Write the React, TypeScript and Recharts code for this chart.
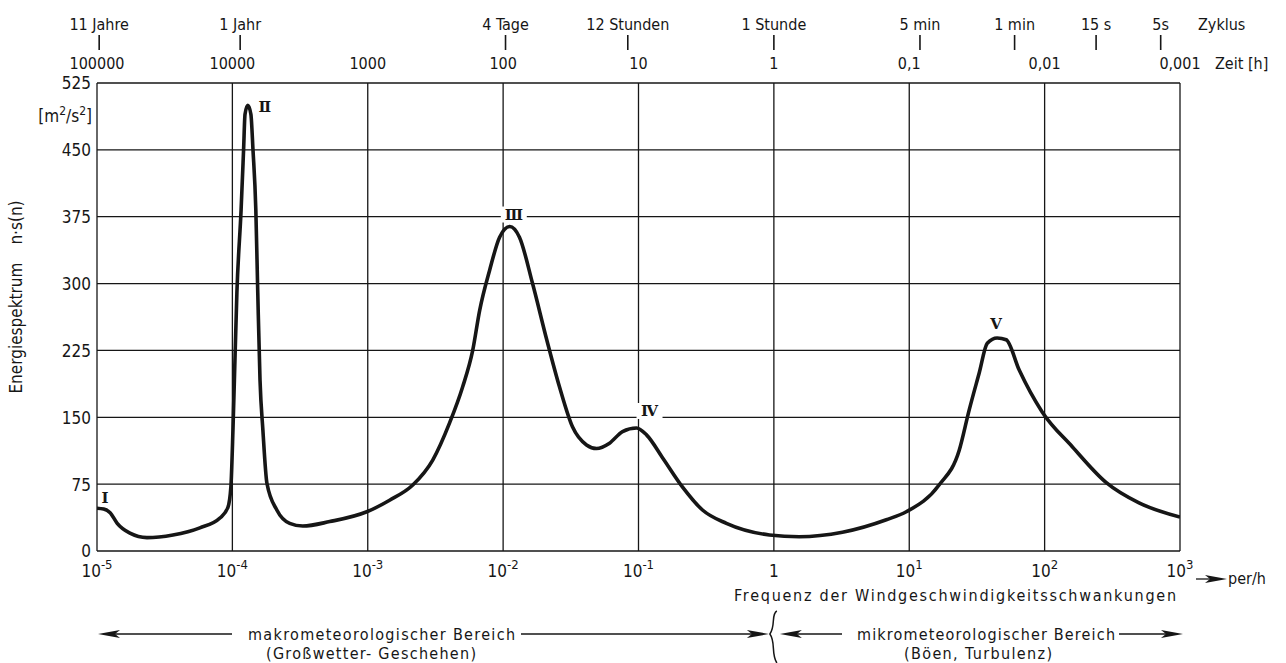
import React from 'react';
import { LineChart, Line, XAxis, YAxis, CartesianGrid, LabelList } from 'recharts';

// Frequency of wind speed fluctuations [per hour] and spectral energy n·S(n) [m²/s²]
const frequency = [
  1e-5, 1.12e-5, 1.25e-5, 1.41e-5, 1.75e-5, 2.34e-5, 3.64e-5, 5.75e-5, 8.09e-5, 9.27e-5,
  9.75e-5, 1.01e-4, 1.035e-4, 1.08e-4, 1.16e-4, 1.21e-4, 1.24e-4, 1.3e-4, 1.37e-4, 1.42e-4,
  1.49e-4, 1.54e-4, 1.6e-4, 1.68e-4, 1.8e-4, 2.13e-4, 2.65e-4, 3.31e-4, 5.24e-4, 9.84e-4,
  1.45e-3, 2.15e-3, 3.02e-3, 4.03e-3, 5.02e-3, 5.96e-3, 6.71e-3, 7.95e-3, 9.42e-3, 1.12e-2,
  1.32e-2, 1.65e-2, 2.1e-2, 2.61e-2, 3.26e-2, 4.13e-2, 4.9e-2, 6.11e-2, 7.62e-2, 9.67e-2,
  0.115, 0.15, 0.211, 0.297, 0.446, 0.927, 1.54, 3.21, 6.77, 9.51,
  16.6, 23.4, 27.7, 32.9, 37.7, 44.6, 52.0, 64.9, 95.9, 160,
  284, 498, 1000,
];
const energy = [
  48, 47, 43, 31, 20, 15, 18, 26, 37, 49,
  72, 136, 192, 290, 383, 450, 490, 500, 490, 450,
  383, 290, 192, 136, 76, 46, 31, 28, 33, 44,
  57, 74, 102, 144, 184, 225, 270, 315, 352, 364,
  352, 300, 237, 184, 139, 119, 115, 121, 134, 138,
  130, 105, 72, 46, 31, 18, 16, 21, 35, 44,
  74, 113, 158, 200, 233, 239, 237, 203, 156, 117,
  77, 54, 38,
];

// Spectral peaks I–V
const peakFrequency = [1e-5, 1.3e-4, 1.12e-2, 9.67e-2, 44.6];
const peakNames = ['Ⅰ', 'Ⅱ', 'Ⅲ', 'Ⅳ', 'Ⅴ'];

// Axes
const frequencyTicks = [1e-5, 1e-4, 1e-3, 1e-2, 1e-1, 1, 10, 100, 1000];
const periodLabels = ['100000', '10000', '1000', '100', '10', '1', '0,1', '0,01', '0,001'];
const energyTicks = [0, 75, 150, 225, 300, 375, 450, 525];
const cycleLabels = ['11 Jahre', '1 Jahr', '4 Tage', '12 Stunden', '1 Stunde', '5 min', '1 min', '15 s', '5s'];
const cyclePeriodHours = [11 * 8760, 8760, 96, 12, 1, 5 / 60, 1 / 60, 15 / 3600, 5 / 3600];
const cycleFrequency = cyclePeriodHours.map((h) => 1 / h);

const data = frequency.map((f, i) => {
  const k = peakFrequency.indexOf(f);
  return { f, e: energy[i], peak: k >= 0 ? peakNames[k] : undefined };
});

// Layout
const W = 1286;
const H = 663;
const PLOT_LEFT = 97;
const PLOT_RIGHT = 1180;
const PLOT_BOTTOM = 551;
const LOG_MIN = -5;
const LOG_MAX = 3;
const fx = (f: number) =>
  PLOT_LEFT + ((Math.log10(f) - LOG_MIN) / (LOG_MAX - LOG_MIN)) * (PLOT_RIGHT - PLOT_LEFT);

const INK = '#161616';
const SANS = "'DejaVu Sans Condensed', 'Liberation Sans Narrow', 'DejaVu Sans', sans-serif";
const SERIF = "'DejaVu Serif', 'DejaVu Sans', serif";

const peakLabelPlacement: Record<string, { dx: number; dy: number; w: number }> = {
  'Ⅰ': { dx: 8, dy: -10, w: 10 },
  'Ⅱ': { dx: 17, dy: 2, w: 14 },
  'Ⅲ': { dx: 4, dy: -12, w: 26 },
  'Ⅳ': { dx: 13, dy: -17, w: 26 },
  'Ⅴ': { dx: -1, dy: -14, w: 18 },
};

function PeakLabel(props: any) {
  const { x, y, value } = props;
  if (!value) return null;
  const p = peakLabelPlacement[value];
  const cx = x + p.dx;
  const cy = y + p.dy;
  return (
    <g>
      <rect x={cx - p.w / 2} y={cy - 8} width={p.w} height={16} fill="#fff" />
      <text x={cx} y={cy + 5} textAnchor="middle" fontFamily={SERIF} fontSize={15} fontWeight="bold" fill={INK}>
        {value}
      </text>
    </g>
  );
}

function FrequencyTick(props: any) {
  const { x, payload } = props;
  const exp = Math.round(Math.log10(payload.value));
  const y = PLOT_BOTTOM + 26;
  if (exp === 0) {
    return (
      <text x={x} y={y} textAnchor="middle" fontFamily={SANS} fontSize={17} fill={INK}>1</text>
    );
  }
  return (
    <text x={x} y={y} textAnchor="middle" fontFamily={SANS} fontSize={17} fill={INK}>
      <tspan>10</tspan>
      <tspan dy={-8} fontSize={13}>{String(exp)}</tspan>
    </text>
  );
}

function PeriodTick(props: any) {
  const { x, index } = props;
  return (
    <text x={x} y={69} textAnchor="middle" fontFamily={SANS} fontSize={16} fill={INK}>
      {periodLabels[index]}
    </text>
  );
}

function CycleTick(props: any) {
  const { x, index } = props;
  return (
    <g>
      <text x={x} y={30} textAnchor="middle" fontFamily={SANS} fontSize={16} fill={INK}>
        {cycleLabels[index]}
      </text>
      <line x1={x} x2={x} y1={35} y2={50} stroke={INK} strokeWidth={1.6} />
    </g>
  );
}

function EnergyTick(props: any) {
  const { y, payload } = props;
  return (
    <text x={PLOT_LEFT - 6} y={y} dy="0.38em" textAnchor="end" fontFamily={SANS} fontSize={17} fill={INK}>
      {payload.value}
    </text>
  );
}

function ArrowHead({ tip, y, dir }: { tip: number; y: number; dir: 1 | -1 }) {
  const b = tip - dir * 22;
  const n = tip - dir * 17;
  return <polygon points={`${tip},${y} ${b},${y - 4} ${n},${y} ${b},${y + 4}`} fill={INK} />;
}

function Annotations() {
  const one = fx(1);
  const rowY = 634;
  return (
    <svg width={W} height={H} style={{ position: 'absolute', left: 0, top: 0, pointerEvents: 'none' }}>
      {/* unit and axis title */}
      <text x={PLOT_LEFT - 5} y={122} textAnchor="end" fontFamily={SANS} fontSize={17} fill={INK}>
        <tspan>[m</tspan>
        <tspan dy={-7} fontSize={12}>2</tspan>
        <tspan dy={7}>/s</tspan>
        <tspan dy={-7} fontSize={12}>2</tspan>
        <tspan dy={7}>]</tspan>
      </text>
      <text transform="translate(22,297) rotate(-90)" textAnchor="middle" fontFamily={SANS} fontSize={17} fill={INK}>
        <tspan>Energiespektrum</tspan>
        <tspan dx={18}>n·s(n)</tspan>
      </text>

      {/* top axis captions */}
      <text x={1198} y={30} fontFamily={SANS} fontSize={16} fill={INK}>Zyklus</text>
      <text x={1215} y={69} fontFamily={SANS} fontSize={16} fill={INK}>Zeit [h]</text>

      {/* frequency unit */}
      <line x1={PLOT_RIGHT + 16} x2={PLOT_RIGHT + 40} y1={579} y2={579} stroke={INK} strokeWidth={1.3} />
      <ArrowHead tip={PLOT_RIGHT + 47} y={579} dir={1} />
      <text x={PLOT_RIGHT + 48} y={584} fontFamily={SANS} fontSize={16} fill={INK}>per/h</text>
      <text x={955} y={601} textAnchor="middle" textLength={442} lengthAdjust="spacing" fontFamily={SANS} fontSize={16} fill={INK}>
        Frequenz der Windgeschwindigkeitsschwankungen
      </text>

      {/* macro-meteorological range */}
      <ArrowHead tip={PLOT_LEFT + 1} y={rowY} dir={-1} />
      <line x1={PLOT_LEFT + 16} x2={232} y1={rowY} y2={rowY} stroke={INK} strokeWidth={1.4} />
      <text x={248} y={640} textLength={267} lengthAdjust="spacing" fontFamily={SANS} fontSize={16} fill={INK}>
        makrometeorologischer  Bereich
      </text>
      <line x1={521} x2={one - 20} y1={rowY} y2={rowY} stroke={INK} strokeWidth={1.4} />
      <ArrowHead tip={one - 5} y={rowY} dir={1} />
      <text x={371} y={659} textAnchor="middle" textLength={210} lengthAdjust="spacing" fontFamily={SANS} fontSize={16} fill={INK}>
        (Großwetter- Geschehen)
      </text>

      {/* dividing brace */}
      <path
        d={`M ${one + 3} 611 C ${one - 3} 614, ${one + 2} 626, ${one - 4} 634 C ${one + 2} 642, ${one - 3} 654, ${one + 3} 663`}
        fill="none"
        stroke={INK}
        strokeWidth={1.5}
      />

      {/* micro-meteorological range */}
      <ArrowHead tip={one + 6} y={rowY} dir={-1} />
      <line x1={one + 20} x2={842} y1={rowY} y2={rowY} stroke={INK} strokeWidth={1.4} />
      <text x={857} y={640} textLength={258} lengthAdjust="spacing" fontFamily={SANS} fontSize={16} fill={INK}>
        mikrometeorologischer  Bereich
      </text>
      <line x1={1119} x2={PLOT_RIGHT - 12} y1={rowY} y2={rowY} stroke={INK} strokeWidth={1.4} />
      <ArrowHead tip={PLOT_RIGHT + 3} y={rowY} dir={1} />
      <text x={978} y={659} textAnchor="middle" textLength={148} lengthAdjust="spacing" fontFamily={SANS} fontSize={16} fill={INK}>
        (Böen, Turbulenz)
      </text>
    </svg>
  );
}

export default function App() {
  return (
    <div style={{ position: 'absolute', left: 0, top: 0, width: W, height: H, background: '#fff' }}>
      <LineChart
        width={W}
        height={H}
        data={data}
        margin={{ top: 0, right: W - PLOT_RIGHT, bottom: H - PLOT_BOTTOM - 40, left: 0 }}
      >
        <XAxis
          xAxisId="freq"
          dataKey="f"
          type="number"
          scale="log"
          domain={[1e-5, 1e3]}
          allowDataOverflow
          ticks={frequencyTicks}
          interval={0}
          height={40}
          axisLine={false}
          tickLine={false}
          tick={FrequencyTick}
        />
        <XAxis
          xAxisId="period"
          dataKey="f"
          orientation="top"
          type="number"
          scale="log"
          domain={[1e-5, 1e3]}
          allowDataOverflow
          ticks={frequencyTicks}
          interval={0}
          height={25}
          axisLine={false}
          tickLine={false}
          tick={PeriodTick}
        />
        <XAxis
          xAxisId="cycle"
          dataKey="f"
          orientation="top"
          type="number"
          scale="log"
          domain={[1e-5, 1e3]}
          allowDataOverflow
          ticks={cycleFrequency}
          interval={0}
          height={58}
          axisLine={false}
          tickLine={false}
          tick={CycleTick}
        />
        <YAxis
          yAxisId="e"
          type="number"
          domain={[0, 525]}
          ticks={energyTicks}
          interval={0}
          width={PLOT_LEFT}
          axisLine={false}
          tickLine={false}
          tick={EnergyTick}
        />
        <CartesianGrid xAxisId="freq" yAxisId="e" stroke={INK} strokeWidth={1.3} />
        {/* carriers for the period and cycle scales along the top edge */}
        <Line xAxisId="period" yAxisId="e" dataKey="e" stroke="none" dot={false} activeDot={false} isAnimationActive={false} />
        <Line xAxisId="cycle" yAxisId="e" dataKey="e" stroke="none" dot={false} activeDot={false} isAnimationActive={false} />
        <Line
          xAxisId="freq"
          yAxisId="e"
          dataKey="e"
          type="monotone"
          stroke={INK}
          strokeWidth={3.6}
          dot={false}
          activeDot={false}
          isAnimationActive={false}
        >
          <LabelList dataKey="peak" content={PeakLabel} />
        </Line>
      </LineChart>
      <Annotations />
    </div>
  );
}
